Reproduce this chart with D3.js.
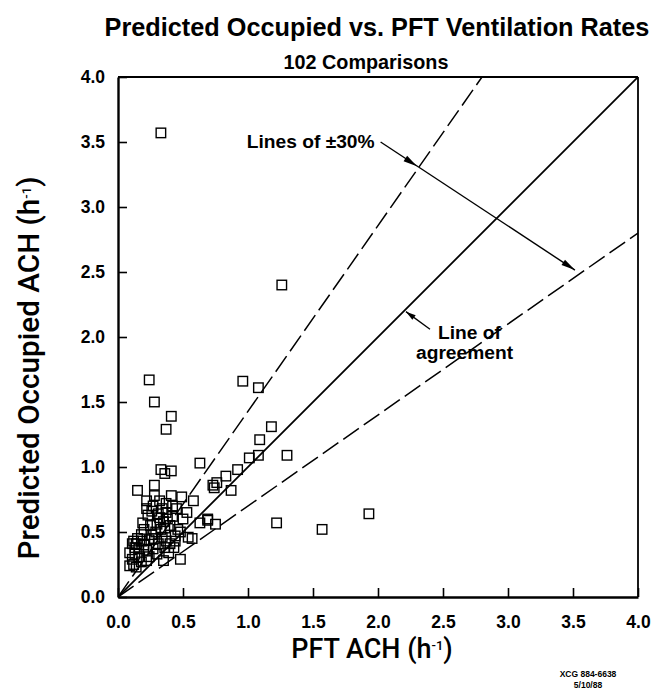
<!DOCTYPE html>
<html>
<head>
<meta charset="utf-8">
<script src="https://cdn.jsdelivr.net/npm/d3@7"></script>
<style>
  html, body { margin: 0; padding: 0; background: #fff; }
  svg { display: block; }
  text { font-family: "Liberation Sans", Arial, Helvetica, sans-serif; fill: #000; }
</style>
</head>
<body>
<svg id="chart" width="653" height="700"></svg>
<script>
// ---------------- data ----------------
const titleText = "Predicted Occupied vs. PFT Ventilation Rates";
const subtitleText = "102 Comparisons";
const xTickValues = [0, 0.5, 1.0, 1.5, 2.0, 2.5, 3.0, 3.5, 4.0];
const yTickValues = [0, 0.5, 1.0, 1.5, 2.0, 2.5, 3.0, 3.5, 4.0];

const pftACH = [
  0.33, 1.26, 0.24, 0.96, 1.08, 0.28, 0.41, 0.37, 1.18, 1.09,
  1.30, 1.01, 1.08, 0.92, 0.83, 0.63, 0.33, 0.41, 0.36, 0.74,
  0.76, 0.73, 0.87, 0.28, 0.15, 0.41, 0.49, 0.58, 0.28, 0.22,
  0.32, 0.37, 0.22, 0.26, 0.34, 0.37, 0.31, 0.23, 0.53, 0.69,
  0.63, 0.75, 1.22, 1.57, 1.93, 0.46, 0.48, 0.54, 0.57, 0.18,
  0.12, 0.11, 0.14, 0.18, 0.26, 0.28, 0.34, 0.37, 0.31, 0.27,
  0.36, 0.40, 0.44, 0.09, 0.13, 0.16, 0.12, 0.09, 0.14, 0.18,
  0.22, 0.35, 0.48, 0.43, 0.69, 0.30, 0.35, 0.25, 0.40, 0.20,
  0.33, 0.42, 0.45, 0.38, 0.16, 0.20, 0.24, 0.30, 0.15, 0.32,
  0.27, 0.44, 0.39, 0.24, 0.11, 0.19, 0.29, 0.36, 0.50, 0.22,
  0.13, 0.42
];
const predictedACH = [
  3.57, 2.40, 1.67, 1.66, 1.61, 1.50, 1.39, 1.29, 1.31, 1.21,
  1.09, 1.07, 1.09, 0.98, 0.93, 1.03, 0.98, 0.97, 0.95, 0.84,
  0.88, 0.86, 0.82, 0.86, 0.82, 0.78, 0.77, 0.74, 0.78, 0.74,
  0.74, 0.72, 0.68, 0.66, 0.68, 0.65, 0.64, 0.63, 0.65, 0.60,
  0.57, 0.56, 0.57, 0.52, 0.64, 0.52, 0.50, 0.46, 0.45, 0.48,
  0.43, 0.41, 0.41, 0.43, 0.48, 0.45, 0.46, 0.43, 0.41, 0.37,
  0.38, 0.41, 0.43, 0.34, 0.33, 0.31, 0.25, 0.24, 0.23, 0.27,
  0.28, 0.28, 0.29, 0.38, 0.59, 0.56, 0.58, 0.55, 0.55, 0.52,
  0.52, 0.62, 0.68, 0.60, 0.37, 0.40, 0.44, 0.33, 0.45, 0.61,
  0.70, 0.47, 0.34, 0.31, 0.29, 0.57, 0.50, 0.53, 0.60, 0.36,
  0.38, 0.70
];

// reference lines: line of agreement and +/-30% lines
const refSlopes = [1.0, 1 / 0.7, 0.7];
const refDashed = [false, true, true];

// annotation anchors in data units
const pctLabel = "Lines of \u00B130%";
const pctArrowStart = [2.02, 3.50];
const pctArrowTip1 = [2.30, 3.313];
const pctArrowTip2 = [3.515, 2.515];
const agreeLabel = ["Line of", "agreement"];
const agreeArrowTail = [2.40, 2.06];
const agreeArrowTip = [2.215, 2.195];

const footer = ["XCG 884-6638", "5/10/88"];

// ---------------- layout ----------------
const svg = d3.select("#chart");
const mLeft = 118, mTop = 77, W = 520, H = 520;
const x = d3.scaleLinear().domain([0, 4]).range([mLeft, mLeft + W]);
const y = d3.scaleLinear().domain([0, 4]).range([mTop + H, mTop]);
const fmt = d3.format(".1f");

function fitWidth(sel, width) {
  const node = sel.node();
  const fs = parseFloat(sel.attr("font-size"));
  const w = node.getComputedTextLength();
  if (w > 0) sel.attr("font-size", (fs * width / w).toFixed(2));
}

// title
const t1 = svg.append("text").attr("x", 377).attr("y", 36)
  .attr("text-anchor", "middle").attr("font-size", 22).attr("font-weight", "bold")
  .text(titleText);
fitWidth(t1, 545);
const t2 = svg.append("text").attr("x", 366).attr("y", 69)
  .attr("text-anchor", "middle").attr("font-size", 15).attr("font-weight", "bold")
  .text(subtitleText);
fitWidth(t2, 165);

// clip for data lines
svg.append("clipPath").attr("id", "plotclip").append("rect")
  .attr("x", mLeft).attr("y", mTop).attr("width", W).attr("height", H);

// reference lines
const g = svg.append("g").attr("clip-path", "url(#plotclip)");
refSlopes.forEach((s, i) => {
  const xEnd = Math.min(4, 4 / s);
  g.append("line")
    .attr("x1", x(0)).attr("y1", y(0))
    .attr("x2", x(xEnd)).attr("y2", y(xEnd * s))
    .attr("stroke", "#000")
    .attr("stroke-width", refDashed[i] ? 1.5 : 1.8)
    .attr("stroke-dasharray", refDashed[i] ? "19,6" : null);
});

// points
const pts = pftACH.map((v, i) => [v, predictedACH[i]]);
const sq = 9.5;
svg.append("g").selectAll("rect").data(pts).join("rect")
  .attr("x", d => x(d[0]) - sq / 2).attr("y", d => y(d[1]) - sq / 2)
  .attr("width", sq).attr("height", sq)
  .attr("fill", "none").attr("stroke", "#000").attr("stroke-width", 1.4);

// axes
const yAxis = d3.axisLeft(y).tickValues(yTickValues).tickFormat(fmt)
  .tickSizeInner(-9).tickSizeOuter(0).tickPadding(13);
const xAxis = d3.axisBottom(x).tickValues(xTickValues).tickFormat(fmt)
  .tickSizeInner(-9).tickSizeOuter(0).tickPadding(19);
const ga = svg.append("g").attr("transform", `translate(${mLeft},0)`).call(yAxis);
const gb = svg.append("g").attr("transform", `translate(0,${mTop + H})`).call(xAxis);
[ga, gb].forEach(a => {
  a.select(".domain").attr("stroke-width", 2.4);
  a.selectAll(".tick line").attr("stroke-width", 1.6);
  a.selectAll(".tick text").attr("font-size", 17.5).attr("font-weight", "bold")
    .attr("font-family", "'Liberation Sans', Arial, sans-serif");
});
// top and right frame
svg.append("line").attr("x1", x(0)).attr("x2", x(4)).attr("y1", y(4)).attr("y2", y(4))
  .attr("stroke", "#000").attr("stroke-width", 1.8);
svg.append("line").attr("x1", x(4)).attr("x2", x(4)).attr("y1", y(4)).attr("y2", y(0))
  .attr("stroke", "#000").attr("stroke-width", 1.8);

// axis titles
const xt = svg.append("text").attr("x", 372).attr("y", 658)
  .attr("text-anchor", "middle").attr("font-size", 21).attr("font-weight", 500)
  .style("font-family", "Roboto, 'Liberation Sans', sans-serif");
xt.append("tspan").text("PFT ACH (h");
xt.append("tspan").attr("dy", -8).attr("font-size", 13).text("-1");
xt.append("tspan").attr("dy", 8).text(")");
fitWidth(xt, 165);

const yt = svg.append("text")
  .attr("transform", `translate(39,${368}) rotate(-90)`)
  .attr("text-anchor", "middle").attr("font-size", 21).attr("font-weight", 500)
  .style("font-family", "Roboto, 'Liberation Sans', sans-serif");
yt.append("tspan").text("Predicted Occupied ACH (h");
yt.append("tspan").attr("dy", -8).attr("font-size", 13).text("-1");
yt.append("tspan").attr("dy", 8).text(")");
fitWidth(yt, 388);

// arrowheads
function arrowHead(tip, from, len, half) {
  const tx = x(tip[0]), ty = y(tip[1]);
  const fx = x(from[0]), fy = y(from[1]);
  const dx = tx - fx, dy = ty - fy, L = Math.hypot(dx, dy);
  const ux = dx / L, uy = dy / L;
  const bx = tx - ux * len, by = ty - uy * len;
  const p = [[tx, ty], [bx - uy * half, by + ux * half], [bx + uy * half, by - ux * half]];
  svg.append("path").attr("d", "M" + p.map(q => q.join(",")).join("L") + "Z").attr("fill", "#000");
}

// +/-30% annotation
const pl = svg.append("text").attr("x", x(pctArrowStart[0]) - 6).attr("y", y(pctArrowStart[1]) + 6)
  .attr("text-anchor", "end").attr("font-size", 16).attr("font-weight", "bold")
  .text(pctLabel);
fitWidth(pl, 128);
svg.append("line")
  .attr("x1", x(pctArrowStart[0])).attr("y1", y(pctArrowStart[1]))
  .attr("x2", x(pctArrowTip2[0])).attr("y2", y(pctArrowTip2[1]))
  .attr("stroke", "#000").attr("stroke-width", 1.4);
arrowHead(pctArrowTip1, pctArrowStart, 14, 3.2);
arrowHead(pctArrowTip2, pctArrowStart, 14, 3.2);

// line of agreement annotation
svg.append("line")
  .attr("x1", x(agreeArrowTail[0])).attr("y1", y(agreeArrowTail[1]))
  .attr("x2", x(agreeArrowTip[0])).attr("y2", y(agreeArrowTip[1]))
  .attr("stroke", "#000").attr("stroke-width", 1.3);
arrowHead(agreeArrowTip, agreeArrowTail, 10, 2.8);
const aFs = parseFloat(pl.attr("font-size"));
svg.append("text").attr("x", x(agreeArrowTail[0]) + 8).attr("y", y(agreeArrowTail[1]) + 10)
  .attr("font-size", aFs).attr("font-weight", "bold").text(agreeLabel[0]);
svg.append("text").attr("x", x(agreeArrowTail[0]) - 14).attr("y", y(agreeArrowTail[1]) + 30)
  .attr("font-size", aFs).attr("font-weight", "bold").text(agreeLabel[1]);

// footer
footer.forEach((s, i) => {
  svg.append("text").attr("x", 588).attr("y", 677 + i * 11)
    .attr("text-anchor", "middle").attr("font-size", 8.5).attr("font-weight", "bold")
    .text(s);
});
</script>
</body>
</html>
